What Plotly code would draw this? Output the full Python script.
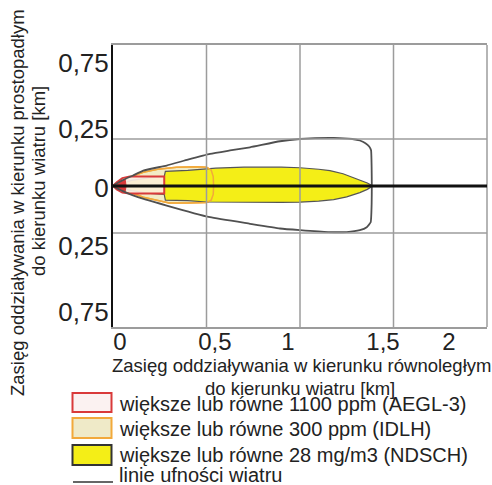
import plotly.graph_objects as go

# ---------------- data (km) ----------------
# wind confidence lines (closed loop: upper edge out, vertical end, lower edge back)
wind_x = [0, 0.05, 0.107, 0.162, 0.287, 0.4, 0.519, 0.626, 0.733, 0.893, 1.0, 1.18, 1.28, 1.32, 1.35, 1.37, 1.38,
          1.383, 1.384, 1.383, 1.378, 1.357, 1.32, 1.25, 1.15, 1.0, 0.893, 0.733, 0.519, 0.287, 0.107, 0.05, 0]
wind_y = [0, 0.03, 0.056, 0.082, 0.109, 0.14, 0.171, 0.189, 0.206, 0.238, 0.25, 0.256, 0.25, 0.242, 0.228, 0.21, 0.19,
          0.1, 0, -0.1, -0.193, -0.219, -0.235, -0.245, -0.245, -0.235, -0.226, -0.201, -0.166, -0.104, -0.05, -0.026, 0]

# NDSCH zone (>= 28 mg/m3)
ndsch_x = [0, 0.1, 0.2, 0.274, 0.28, 0.4, 0.55, 0.7, 0.9, 1.0, 1.1, 1.16, 1.23, 1.28, 1.33, 1.36, 1.383,
           1.383, 1.36, 1.32, 1.25, 1.18, 1.1, 1.0, 0.9, 0.7, 0.5, 0.4, 0.28, 0.274, 0.2, 0.1, 0]
ndsch_y = [0, 0.03, 0.045, 0.05, 0.078, 0.083, 0.095, 0.1, 0.1, 0.097, 0.089, 0.082, 0.065, 0.047, 0.028, 0.016, 0.004,
           -0.004, -0.018, -0.035, -0.058, -0.072, -0.08, -0.086, -0.087, -0.088, -0.085, -0.078, -0.075, -0.045, -0.04, -0.025, 0]

# IDLH zone (>= 300 ppm)
idlh_x = [0, 0.03, 0.09, 0.162, 0.251, 0.34, 0.45, 0.5, 0.525, 0.536, 0.538, 0.536, 0.525, 0.5, 0.4, 0.3, 0.162, 0.09, 0.03, 0]
idlh_y = [0, 0.02, 0.047, 0.073, 0.091, 0.1, 0.102, 0.1, 0.085, 0.05, 0, -0.045, -0.075, -0.088, -0.091, -0.09, -0.06, -0.033, -0.015, 0]

# AEGL-3 zone (>= 1100 ppm)
aegl_x = [0, 0.02, 0.05, 0.09, 0.274, 0.276, 0.274, 0.09, 0.05, 0.02, 0]
aegl_y = [0, 0.02, 0.042, 0.05, 0.05, 0.005, -0.04, -0.04, -0.035, -0.018, 0]
aegl_core_x = [0, 0.065, 0.07, 0.065, 0]
aegl_core_y = [0, 0.035, 0, -0.03, 0]

# ticks / grid
x_tick_pos = [0.037, 0.545, 0.936, 1.444, 1.797]
x_tick_labels = ["0", "0,5", "1", "1,5", "2"]
y_tick_pos = [0.657, 0.306, -0.008, -0.316, -0.668]
y_tick_labels = ["0,75", "0,25", "0", "0,25", "0,75"]
x_grid = [0.5, 1.0, 1.5]
y_grid = [-0.25, 0.25]
wind_axis_y = 0

legend_labels = ["większe lub równe 1100 ppm (AEGL-3)",
                 "większe lub równe 300 ppm (IDLH)",
                 "większe lub równe 28 mg/m3 (NDSCH)",
                 "linie ufności wiatru"]

x_title = ["Zasięg oddziaływania w kierunku równoległym", "do kierunku wiatru [km]"]
y_title = ["Zasięg oddziaływania w kierunku prostopadłym", "do kierunku wiatru [km]"]

# ---------------- styles ----------------
FONT = "Liberation Sans, Arial, sans-serif"
TXT = "#222222"
GRID = "#9c9c9c"
RED = "#d93a3a"
ORANGE = "#f2a93b"
YELLOW = "#f4ee17"
WIND = "#505050"

W, H = 492, 485
ML, MR, MT, MB = 113, 5, 45, 158
PW, PH = W - ML - MR, H - MT - MB


def PX(px):
    return (px - ML) / PW


def PY(py):
    return (H - MB - py) / PH


fig = go.Figure()
fig.add_trace(go.Scatter(x=idlh_x, y=idlh_y, mode="lines", fill="toself",
                         fillcolor="#f2ecc6", line=dict(color=ORANGE, width=1.5),
                         hoverinfo="skip", showlegend=False))
fig.add_trace(go.Scatter(x=ndsch_x, y=ndsch_y, mode="lines", fill="toself",
                         fillcolor=YELLOW, line=dict(color="#555555", width=1.2),
                         hoverinfo="skip", showlegend=False))
fig.add_trace(go.Scatter(x=idlh_x, y=idlh_y, mode="lines",
                         line=dict(color=ORANGE, width=1.5),
                         hoverinfo="skip", showlegend=False))
fig.add_trace(go.Scatter(x=aegl_x, y=aegl_y, mode="lines", fill="toself",
                         fillcolor="rgba(252,238,228,0.92)", line=dict(color=RED, width=2),
                         hoverinfo="skip", showlegend=False))
fig.add_trace(go.Scatter(x=aegl_core_x, y=aegl_core_y, mode="lines", fill="toself",
                         fillcolor=RED, line=dict(color=RED, width=1),
                         hoverinfo="skip", showlegend=False))
fig.add_trace(go.Scatter(x=wind_x, y=wind_y, mode="lines",
                         line=dict(color=WIND, width=1.8, shape="spline", smoothing=0.4),
                         hoverinfo="skip", showlegend=False))

annotations = []
shapes = []

# grid lines drawn above the zones (as in the reference)
for gx in x_grid:
    shapes.append(dict(type="line", xref="x", yref="paper", x0=gx, x1=gx, y0=0, y1=1,
                       layer="above", line=dict(color=GRID, width=1.5)))
for gy in y_grid:
    shapes.append(dict(type="line", xref="paper", yref="y", x0=0, x1=1, y0=gy, y1=gy,
                       layer="above", line=dict(color=GRID, width=1.5)))
# right frame border
shapes.append(dict(type="line", xref="paper", yref="paper", x0=1, x1=1, y0=0, y1=1,
                   layer="above", line=dict(color=GRID, width=1.5)))
# wind axis (centre line)
shapes.append(dict(type="line", xref="paper", yref="y", x0=0, x1=1, y0=wind_axis_y, y1=wind_axis_y,
                   layer="above", line=dict(color="#111111", width=3)))

# axis titles
annotations.append(dict(text=x_title[0], x=PX(301), y=PY(365), xref="paper", yref="paper",
                        showarrow=False, xanchor="center", yanchor="middle",
                        font=dict(family=FONT, size=18.5, color=TXT)))
annotations.append(dict(text=x_title[1], x=PX(300), y=PY(388), xref="paper", yref="paper",
                        showarrow=False, xanchor="center", yanchor="middle",
                        font=dict(family=FONT, size=18.5, color=TXT)))
annotations.append(dict(text=y_title[0], x=PX(17), y=PY(203), xref="paper", yref="paper",
                        showarrow=False, xanchor="center", yanchor="middle", textangle=-90,
                        font=dict(family=FONT, size=18.5, color=TXT)))
annotations.append(dict(text=y_title[1], x=PX(38), y=PY(181), xref="paper", yref="paper",
                        showarrow=False, xanchor="center", yanchor="middle", textangle=-90,
                        font=dict(family=FONT, size=18.5, color=TXT)))

# custom legend
boxes = [(393, 412, RED, "#fbf2f1"), (418, 438, ORANGE, "#efeac8"), (445, 465, "#333333", YELLOW)]
for (y0, y1, lc, fc) in boxes:
    shapes.append(dict(type="rect", xref="paper", yref="paper",
                       x0=PX(72.5), x1=PX(111.5), y0=PY(y1), y1=PY(y0),
                       line=dict(color=lc, width=2), fillcolor=fc))
shapes.append(dict(type="line", xref="paper", yref="paper",
                   x0=PX(73), x1=PX(113), y0=PY(482), y1=PY(482),
                   line=dict(color="#666666", width=2)))
text_y = [404, 429, 455, 475]
for lab, ty in zip(legend_labels, text_y):
    annotations.append(dict(text=lab, x=PX(117), y=PY(ty), xref="paper", yref="paper",
                            showarrow=False, xanchor="left", yanchor="middle",
                            font=dict(family=FONT, size=20, color=TXT)))

fig.update_layout(
    width=W, height=H,
    margin=dict(l=ML, r=MR, t=MT, b=MB, pad=0),
    paper_bgcolor="white", plot_bgcolor="white",
    showlegend=False,
    annotations=annotations, shapes=shapes,
    xaxis=dict(range=[0, 2.0], tickmode="array", tickvals=x_tick_pos, ticktext=x_tick_labels,
               showgrid=False, zeroline=False, ticks="", showline=True, linecolor=GRID,
               linewidth=1.5, mirror=True, layer="above traces",
               tickfont=dict(family=FONT, size=24, color=TXT)),
    yaxis=dict(range=[-0.75, 0.75], tickmode="array", tickvals=y_tick_pos, ticktext=y_tick_labels,
               showgrid=False, zeroline=False,
               ticks="", showline=True, linecolor="#111111", linewidth=2, mirror=False,
               layer="above traces",
               tickfont=dict(family=FONT, size=26, color=TXT)),
)
try:
    fig.update_xaxes(ticklabelstandoff=-8)
    fig.update_yaxes(ticklabelstandoff=-3)
except Exception:
    pass

fig.write_html("out.html", config={"displayModeBar": False},
               post_script="document.body.style.margin='0px';document.body.style.padding='0px';")
